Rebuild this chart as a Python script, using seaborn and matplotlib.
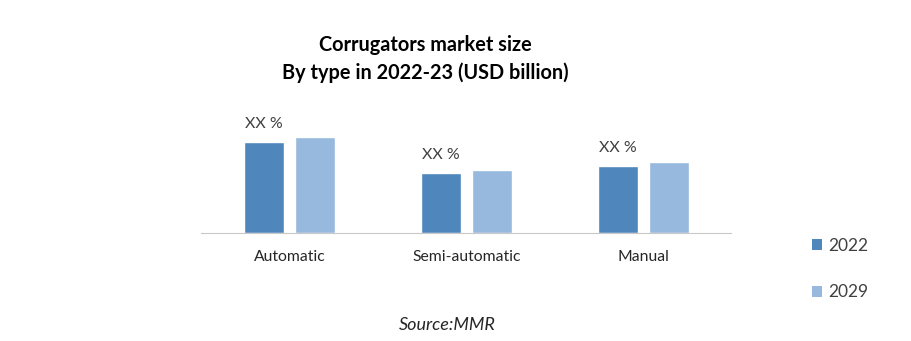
import matplotlib
matplotlib.use("Agg")
import matplotlib.pyplot as plt
import seaborn as sns
import pandas as pd
from matplotlib.patches import Patch

categories = ["Automatic", "Semi-automatic", "Manual"]
years = ["2022", "2029"]
values_2022 = [91, 60, 67]
values_2029 = [96, 63, 71]
bar_labels = ["XX %", "XX %", "XX %"]
title_lines = ["Corrugators market size", "By type in 2022-23 (USD billion)"]
source_text = "Source:MMR"

colors = ["#4f86bc", "#97b9de"]

df = pd.DataFrame({
    "type": categories * 2,
    "year": [years[0]] * 3 + [years[1]] * 3,
    "value": values_2022 + values_2029,
})

sns.set_theme(style="white")
plt.rcParams["font.family"] = ["Lato", "DejaVu Sans"]

fig = plt.figure(figsize=(9.11, 3.41), dpi=100)
ax = fig.add_axes([201 / 911, (341 - 233) / 341, 531 / 911, 120 / 341])

sns.barplot(data=df, x="type", y="value", hue="year", order=categories,
            hue_order=years, palette=colors, width=0.576, gap=0.215,
            saturation=1, ax=ax, legend=False)

ax.set_xlim(-0.5, 2.5)
ax.set_ylim(0, 120)
ax.set_xlabel("")
ax.set_ylabel("")
ax.set_yticks([])
for s in ["top", "right", "left"]:
    ax.spines[s].set_visible(False)
ax.spines["bottom"].set_color("#c8c8c8")
ax.spines["bottom"].set_linewidth(0.8)
ax.spines["bottom"].set_linestyle((0, (1, 1)))
ax.tick_params(axis="x", length=0, pad=12, labelsize=11.3, labelcolor="#262626")

ax.bar_label(ax.containers[0], labels=bar_labels, padding=8, fontsize=11.5,
             color="#404040")

fig.text(425 / 911, 1 - 45 / 341, title_lines[0], ha="center", va="center",
         fontsize=14.3, fontweight="bold", color="black")
fig.text(425 / 911, 1 - 73 / 341, title_lines[1], ha="center", va="center",
         fontsize=14.3, fontweight="bold", color="black")
fig.text(447 / 911, 1 - 325 / 341, source_text, ha="center", va="center",
         fontsize=13, fontstyle="italic", color="#262626")

handles = [Patch(facecolor=c, edgecolor="none") for c in colors]
leg = fig.legend(handles, years, loc="center left",
                 bbox_to_anchor=(803 / 911, 1 - 269 / 341), frameon=False,
                 fontsize=12.5, handlelength=0.6, handleheight=0.6,
                 handletextpad=0.35, labelspacing=1.75, borderpad=0)
for t in leg.get_texts():
    t.set_color("#404040")

fig.savefig("out.png", dpi=100)
